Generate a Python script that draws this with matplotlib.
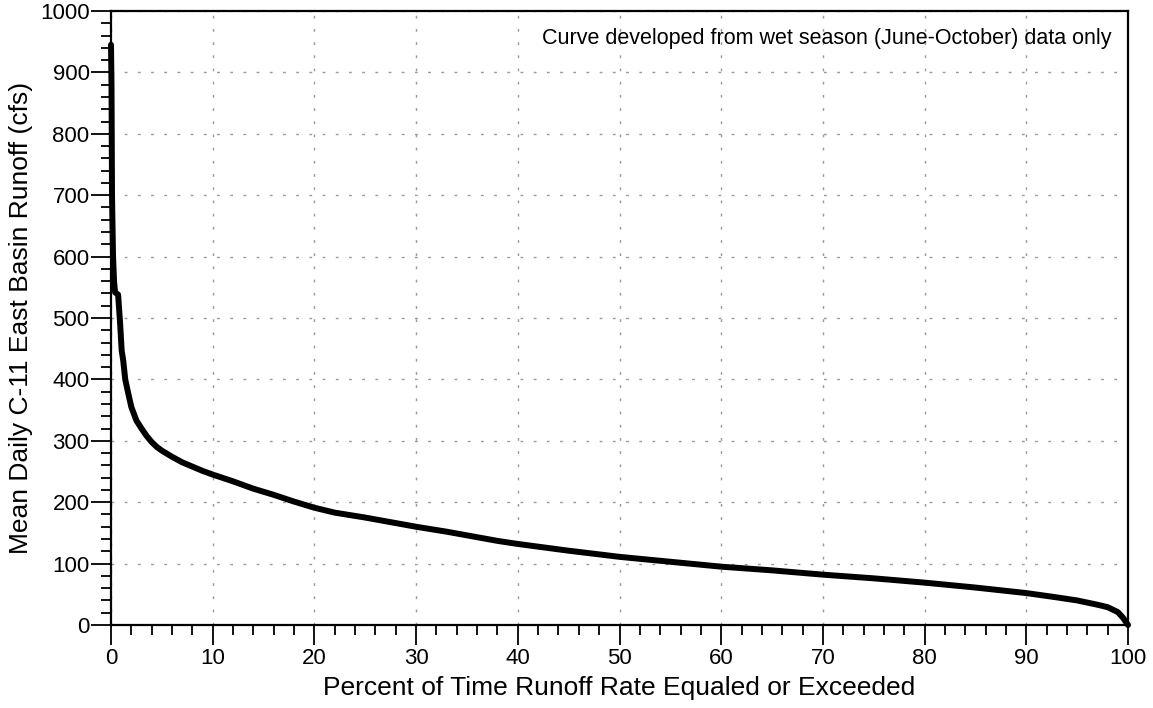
import matplotlib
matplotlib.use("Agg")
import matplotlib.pyplot as plt
from matplotlib.ticker import MultipleLocator

plt.rcParams['font.family'] = ['Liberation Sans', 'DejaVu Sans']

# flow duration curve (percent exceeded, cfs)
percent = [0, 0.05, 0.1, 0.2, 0.3, 0.4, 0.7, 0.9, 1.05, 1.2, 1.4, 1.7, 2.0,
           2.5, 3.0, 3.5, 4.0, 4.5, 5, 6, 7, 8, 9, 10, 12, 14, 16, 18, 20,
           22, 25, 28, 30, 33, 36, 38, 40, 45, 50, 55, 60, 65, 70, 75, 80,
           85, 90, 93, 95, 97, 98, 99, 99.5, 100]
runoff = [945, 880, 700, 600, 560, 542, 538, 490, 447, 431, 400, 377, 355,
          333, 320, 308, 298, 290, 284, 274, 265, 258, 251, 245, 234, 222,
          212, 201, 191, 183, 175, 166, 160, 152, 143, 137, 132, 121, 111,
          103, 95, 89, 82, 76, 69, 61, 52, 45, 40, 33, 29, 21, 12, 0]

note = "Curve developed from wet season (June-October) data only"

fig = plt.figure(figsize=(11.53, 7.08), dpi=100)
ax = fig.add_axes([0.09627, 0.11723, 0.88205, 0.86723])

ax.plot(percent, runoff, color="black", linewidth=4.3,
        solid_capstyle="round", solid_joinstyle="round", clip_on=False, zorder=3)

ax.set_xlim(0, 100)
ax.set_ylim(0, 1000)
ax.xaxis.set_major_locator(MultipleLocator(10))
ax.xaxis.set_minor_locator(MultipleLocator(2))
ax.yaxis.set_major_locator(MultipleLocator(100))
ax.yaxis.set_minor_locator(MultipleLocator(20))

ax.tick_params(which="major", length=14.4, width=1.3, labelsize=16, pad=2)
ax.tick_params(axis="y", which="major", pad=1)
ax.tick_params(which="minor", length=7.2, width=1.3)

ax.grid(True, which="major", color="#999999", linewidth=1,
        linestyle=(0, (2, 7.5)))
for sp in ax.spines.values():
    sp.set_linewidth(1.6)

ax.set_xlabel("Percent of Time Runoff Rate Equaled or Exceeded",
              fontsize=19, labelpad=5)
ax.set_ylabel("Mean Daily C-11 East Basin Runoff (cfs)", fontsize=19,
              labelpad=5)

ax.text(0.984, 0.956, note, transform=ax.transAxes, ha="right", va="center",
        fontsize=15.5)

fig.savefig("out.png", dpi=100)
